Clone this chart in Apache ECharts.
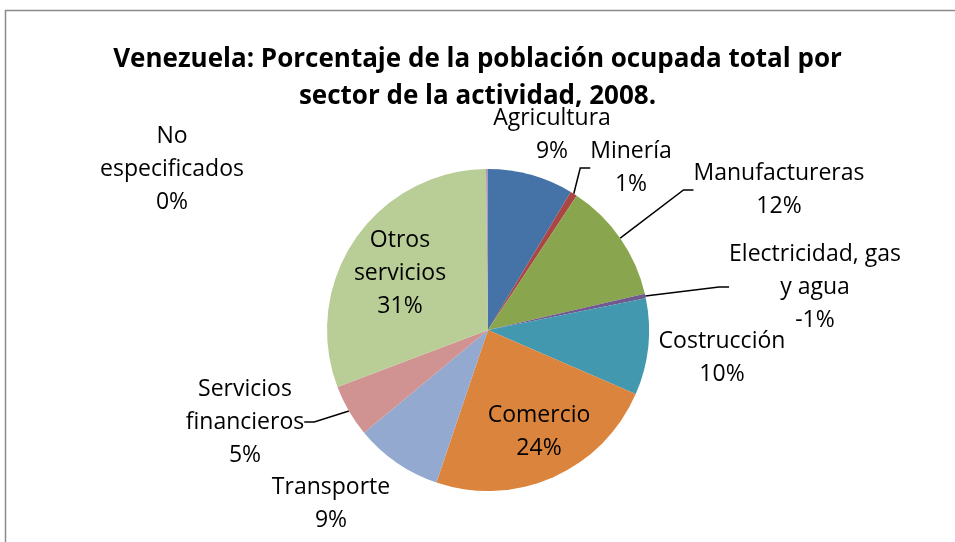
<!DOCTYPE html>
<html>
<head>
<meta charset="utf-8">
<script src="https://cdn.jsdelivr.net/npm/echarts@6/dist/echarts.min.js"></script>
<style>
  html, body { margin: 0; padding: 0; background: #fff; }
  #main { width: 955px; height: 542px; }
</style>
</head>
<body>
<div id="main"></div>
<script type="text/javascript">
// sectors, clockwise from 12 o'clock
var sectors = ['Agricultura', 'Minería', 'Manufactureras', 'Electricidad, gas\ny agua',
  'Costrucción', 'Comercio', 'Transporte', 'Servicios\nfinancieros', 'Otros\nservicios',
  'No\nespecificados'];
// share of employed population (%)
var shares = [8.6, 0.7, 12.1, 0.45, 9.7, 23.7, 8.8, 5.25, 30.6, 0.2];
// percentages as printed on the labels
var labelPct = [9, 1, 12, -1, 10, 24, 9, 5, 31, 0];
var colors = ['#4572A7', '#AA4643', '#89A54E', '#71588F', '#4198AF', '#DB843D',
  '#93A9CF', '#D19392', '#B9CD96', '#A99BBD'];

var font = '"Open Sans", Lato, sans-serif';
// where the label blocks sit (centre of each text block), Excel placed them by hand
var labelSpots = [[552, 135], [631, 168], [779, 190], [815, 287], [722, 358],
  [539, 432], [331, 504], [245, 422], [400, 273], [172, 169]];
var withLine = [false, true, true, true, false, false, false, true, false, false];

var myChart = echarts.init(document.getElementById('main'));

var option = {
  animation: false,
  title: {
    text: 'Venezuela: Porcentaje de la población ocupada total por\nsector de la actividad, 2008.',
    left: 'center',
    top: 36,
    textStyle: {
      fontFamily: font,
      fontWeight: 'bold',
      fontSize: 26,
      lineHeight: 37,
      color: '#000'
    }
  },
  graphic: [{
    type: 'rect',
    shape: { x: 5.5, y: 10.5, width: 960, height: 560 },
    style: { fill: null, stroke: '#8a8a8a', lineWidth: 1.5 },
    silent: true
  }],
  series: [{
    type: 'pie',
    center: [488, 330],
    radius: 161,
    startAngle: 90,
    clockwise: true,
    avoidLabelOverlap: false,
    label: {
      show: true,
      position: 'outside',
      fontFamily: font,
      fontSize: 23,
      lineHeight: 33,
      color: '#000',
      align: 'center',
      formatter: function (p) {
        return sectors[p.dataIndex] + '\n' + labelPct[p.dataIndex] + '%';
      }
    },
    labelLine: {
      show: true,
      length: 10,
      length2: 10,
      lineStyle: { color: '#000', width: 1.5 }
    },
    labelLayout: function (p) {
      var s = labelSpots[p.dataIndex];
      return { x: s[0], y: s[1], align: 'center', verticalAlign: 'middle' };
    },
    itemStyle: { borderWidth: 0 },
    data: shares.map(function (v, i) {
      return {
        name: sectors[i],
        value: v,
        itemStyle: { color: colors[i] },
        labelLine: { show: withLine[i] }
      };
    })
  }]
};

myChart.setOption(option);
window.addEventListener('resize', myChart.resize);
</script>
</body>
</html>
